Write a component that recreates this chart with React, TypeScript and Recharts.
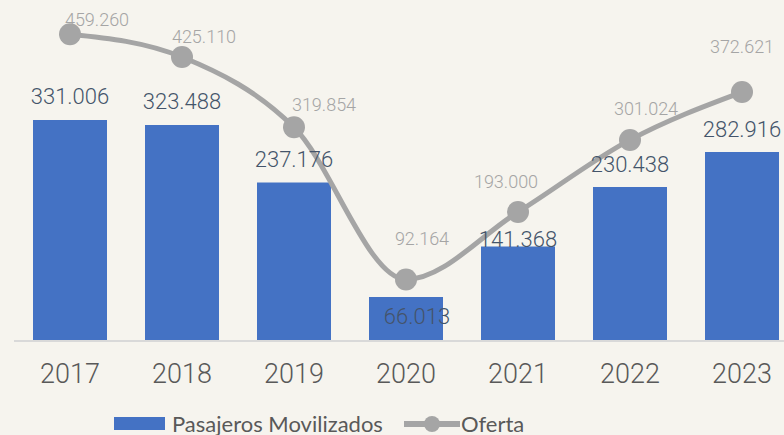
import React from 'react';
import { ComposedChart, Bar, Line, XAxis, YAxis, LabelList } from 'recharts';

const years = ['2017', '2018', '2019', '2020', '2021', '2022', '2023'];
const pasajeros = [331006, 323488, 237176, 66013, 141368, 230438, 282916];
const oferta = [459260, 425110, 319854, 92164, 193000, 301024, 372621];

const data = years.map((year, i) => ({ year, pasajeros: pasajeros[i], oferta: oferta[i] }));

// 331006 -> "331.006"
const fmt3 = (v: number) => {
  const s = String(v);
  return s.length > 3 ? s.slice(0, -3) + '.' + s.slice(-3) : s;
};

// manual label nudges, like the moved labels in the original sheet
const barLabelShift: Record<number, [number, number]> = { 3: [11, 43], 4: [0, 16] };
const lineLabelShift: [number, number][] = [
  [27, -15], [22, -21], [30, -23], [16, -41], [-12, -31], [16, -31], [0, -46],
];

const BG = '#f6f4ee';
const BLUE = '#4472c4';
const GRAY = '#a5a5a5';
const FONT = "Roboto, 'Open Sans', sans-serif";

const BarLabel = (props: any) => {
  const { x, y, width, value, index } = props;
  const [dx, dy] = barLabelShift[index] || [0, 0];
  return (
    <text
      x={x + width / 2 + dx}
      y={y - 23 + dy}
      textAnchor="middle"
      dominantBaseline="central"
      fontSize={22}
      fontWeight={300}
      fill="#44546a"
      fontFamily={FONT}
    >
      {fmt3(value)}
    </text>
  );
};

const LineLabel = (props: any) => {
  const { x, y, value, index } = props;
  const [dx, dy] = lineLabelShift[index] || [0, -20];
  return (
    <text
      x={x + dx}
      y={y + dy}
      textAnchor="middle"
      dominantBaseline="central"
      fontSize={18}
      fontWeight={300}
      fill={GRAY}
      fontFamily={FONT}
    >
      {fmt3(value)}
    </text>
  );
};

const YearTick = (props: any) => {
  const { x, y, payload } = props;
  return (
    <text
      x={x}
      y={y + 31}
      textAnchor="middle"
      dominantBaseline="central"
      fontSize={27}
      fontWeight={300}
      fill="#595959"
      fontFamily={FONT}
    >
      {payload.value}
    </text>
  );
};

export default function App() {
  return (
    <div
      style={{
        position: 'absolute',
        left: 0,
        top: 0,
        width: 784,
        height: 435,
        overflow: 'hidden',
        background: BG,
      }}
    >
      <ComposedChart
        width={820}
        height={435}
        data={data}
        margin={{ top: 7, right: 22, left: 14, bottom: 0 }}
      >
        <XAxis
          dataKey="year"
          height={94}
          tickLine={false}
          tickSize={0}
          axisLine={{ stroke: '#d9d9d9', strokeWidth: 2 }}
          tick={<YearTick />}
          interval={0}
        />
        <YAxis hide domain={[0, 500000]} />
        <Bar dataKey="pasajeros" fill={BLUE} barSize={74} isAnimationActive={false}>
          <LabelList dataKey="pasajeros" content={<BarLabel />} />
        </Bar>
        <Line
          dataKey="oferta"
          type="monotone"
          stroke={GRAY}
          strokeWidth={5}
          dot={{ r: 11, fill: GRAY, stroke: 'none' }}
          activeDot={false}
          isAnimationActive={false}
        >
          <LabelList dataKey="oferta" content={<LineLabel />} />
        </Line>
      </ComposedChart>
      <div
        style={{
          position: 'absolute',
          top: 410,
          left: 114,
          display: 'flex',
          alignItems: 'center',
          fontFamily: 'Lato, sans-serif',
          fontSize: 22,
          color: '#595959',
          whiteSpace: 'nowrap',
        }}
      >
        <span style={{ display: 'inline-block', width: 51, height: 13, background: BLUE, marginRight: 7 }} />
        <span>Pasajeros Movilizados</span>
        <svg width={58} height={20} style={{ marginLeft: 20 }}>
          <line x1={1} y1={10} x2={57} y2={10} stroke={GRAY} strokeWidth={6} />
          <circle cx={29} cy={10} r={8} fill={GRAY} />
        </svg>
        <span>Oferta</span>
      </div>
    </div>
  );
}
